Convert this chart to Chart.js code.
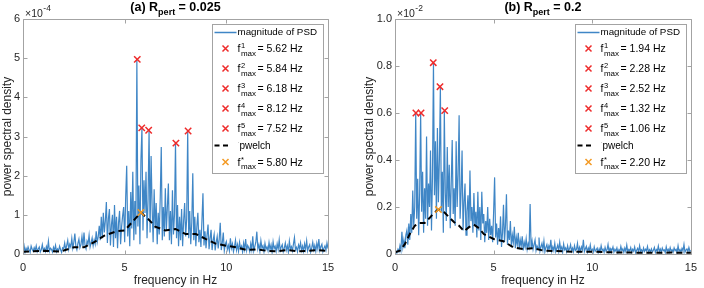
<!DOCTYPE html>
<html><head><meta charset="utf-8">
<script src="https://cdn.jsdelivr.net/npm/chart.js@4/dist/chart.umd.min.js"></script>
<style>
html,body{margin:0;padding:0;background:#fff;}
#wrap{position:relative;width:704px;height:288px;overflow:hidden;}
canvas{position:absolute;top:0;}
</style></head><body>
<div id="wrap">
<canvas id="cA" width="352" height="288" style="left:0"></canvas>
<canvas id="cB" width="352" height="288" style="left:352px"></canvas>
</div>
<script>
// ---------- DATA ----------
const freqStep = 0.05; // Hz between PSD samples (sample i is at i*freqStep)
const xTicks = [0, 5, 10, 15];

// Panel (a): values in units of 1e-4
const psdA = [
0.12,0.22,0.05,0.15,0.08,0.18,0.10,0.04,0.20,0.12,
0.07,0.16,0.09,0.21,0.06,0.13,0.18,0.05,0.11,0.24,
0.08,0.14,0.06,0.19,0.10,0.33,0.07,0.15,0.12,0.05,
0.17,0.09,0.22,0.06,0.13,0.08,0.20,0.11,0.04,0.16,
0.14,0.28,0.10,0.22,0.35,0.12,0.25,0.18,0.40,0.15,
0.30,0.52,0.20,0.11,0.27,0.38,0.16,0.24,0.45,0.19,
0.55,0.22,0.13,0.33,0.26,0.48,0.18,0.29,0.41,0.21,
0.36,0.25,0.58,0.30,0.44,0.72,0.35,0.95,0.40,1.05,
0.55,0.85,1.33,0.28,0.90,1.15,0.22,0.75,1.00,0.18,
1.25,0.40,0.95,0.15,0.80,1.10,0.25,0.70,0.98,1.20,
0.30,1.45,2.25,0.45,1.10,0.20,1.58,0.65,2.10,0.35,
1.35,0.50,4.97,0.70,1.75,0.25,2.40,3.22,0.60,1.88,
1.05,2.10,0.40,1.40,3.16,0.55,2.50,1.20,0.30,1.65,
0.65,1.30,0.25,1.05,0.50,1.45,2.73,0.35,1.20,0.45,
1.68,0.60,1.20,1.80,0.35,1.10,0.25,1.63,0.50,1.00,
2.83,0.40,1.25,0.20,0.95,0.35,1.15,0.20,0.85,1.30,
0.45,0.90,3.14,0.40,1.10,0.25,0.80,2.06,0.35,0.95,
0.20,0.70,1.05,0.30,0.62,0.18,0.85,1.55,0.22,0.58,
0.15,0.48,0.75,0.12,0.40,0.62,0.10,0.35,0.50,0.09,
0.30,0.45,0.14,0.38,0.80,0.10,0.28,0.55,0.08,0.25,
0.32,0.12,0.22,0.08,0.40,0.15,0.26,0.06,0.18,0.35,
0.10,0.24,0.07,0.30,0.14,0.20,0.05,0.28,0.12,0.38,
0.09,0.22,0.16,0.06,0.26,0.11,0.45,0.08,0.19,0.30,
0.57,0.13,0.24,0.07,0.34,0.15,0.21,0.06,0.27,0.12,
0.18,0.08,0.29,0.11,0.23,0.05,0.31,0.14,0.20,0.07,
0.26,0.12,0.36,0.09,0.18,0.24,0.06,0.15,0.28,0.10,
0.21,0.05,0.33,0.13,0.19,0.08,0.25,0.42,0.11,0.17,
0.06,0.23,0.14,0.29,0.09,0.20,0.07,0.26,0.12,0.34,
0.08,0.18,0.24,0.05,0.16,0.30,0.11,0.22,0.07,0.27,
0.13,0.38,0.09,0.19,0.25,0.06,0.15,0.21,0.10,0.28,
0.14
];
const peakFreqA = [5.62, 5.84, 6.18, 8.12, 7.52];
const peakValA  = [4.97, 3.22, 3.16, 3.14, 2.83];
const welchFreqA = [0,0.5,1,1.5,1.8,2.2,2.5,3,3.5,4,4.6,5,5.5,5.8,6.2,6.5,7,7.5,8,8.5,9,9.5,10,10.5,11,11.5,12,12.5,13,13.5,14,14.5,15];
const welchA     = [0.06,0.07,0.08,0.07,0.06,0.12,0.17,0.17,0.30,0.47,0.58,0.60,0.89,1.06,0.87,0.70,0.60,0.64,0.51,0.51,0.38,0.26,0.21,0.17,0.10,0.12,0.08,0.07,0.10,0.07,0.08,0.10,0.08];
const welchPeakFreqA = 5.80, welchPeakValA = 1.06;
const yTicksA = [0, 1, 2, 3, 4, 5, 6];

// Panel (b): values in units of 1e-2
const psdB = [
0.004,0.012,0.006,0.020,0.010,0.035,0.015,0.095,0.030,0.060,
0.025,0.080,0.100,0.040,0.130,0.060,0.170,0.090,0.270,0.120,
0.200,0.600,0.150,0.320,0.080,0.260,0.600,0.180,0.350,0.090,
0.280,0.150,0.500,0.120,0.300,0.200,0.440,0.100,0.330,0.814,
0.250,0.480,0.150,0.536,0.220,0.400,0.712,0.180,0.350,0.090,
0.610,0.260,0.140,0.455,0.200,0.380,0.110,0.300,0.485,0.170,
0.280,0.120,0.480,0.200,0.340,0.590,0.150,0.260,0.440,0.100,
0.220,0.300,0.080,0.180,0.250,0.110,0.355,0.140,0.200,0.090,
0.260,0.120,0.180,0.070,0.265,0.100,0.200,0.060,0.265,0.130,
0.170,0.050,0.140,0.090,0.200,0.060,0.150,0.080,0.120,0.050,
0.180,0.326,0.070,0.130,0.040,0.110,0.060,0.160,0.030,0.090,
0.210,0.050,0.120,0.254,0.040,0.100,0.060,0.140,0.030,0.080,
0.050,0.116,0.025,0.070,0.040,0.090,0.020,0.060,0.035,0.075,
0.015,0.050,0.030,0.065,0.020,0.045,0.030,0.213,0.025,0.055,
0.020,0.040,0.060,0.015,0.035,0.025,0.070,0.012,0.030,0.045,
0.018,0.055,0.010,0.028,0.040,0.015,0.035,0.022,0.060,0.012,
0.030,0.015,0.045,0.010,0.025,0.038,0.012,0.050,0.020,0.030,
0.008,0.042,0.018,0.026,0.010,0.035,0.015,0.022,0.040,0.012,
0.025,0.010,0.035,0.015,0.020,0.045,0.008,0.028,0.012,0.030,
0.018,0.060,0.010,0.022,0.032,0.008,0.025,0.014,0.038,0.010,
0.020,0.008,0.030,0.012,0.018,0.025,0.006,0.022,0.010,0.035,
0.015,0.020,0.007,0.028,0.012,0.018,0.040,0.009,0.024,0.011,
0.016,0.030,0.008,0.020,0.012,0.026,0.006,0.018,0.010,0.032,
0.014,0.022,0.007,0.025,0.011,0.038,0.009,0.019,0.013,0.027,
0.008,0.020,0.012,0.030,0.006,0.016,0.024,0.009,0.035,0.012,
0.018,0.007,0.026,0.011,0.020,0.014,0.032,0.008,0.018,0.010,
0.022,0.009,0.016,0.028,0.007,0.019,0.012,0.034,0.010,0.021,
0.008,0.025,0.014,0.018,0.006,0.030,0.011,0.020,0.009,0.027,
0.012,0.018,0.008,0.026,0.014,0.020,0.007,0.035,0.011,0.019,
0.009,0.024,0.013,0.040,0.008,0.017,0.022,0.010,0.028,0.012,
0.015
];
const peakFreqB = [1.94, 2.28, 2.52, 1.32, 1.06];
const peakValB  = [0.814, 0.712, 0.61, 0.60, 0.60];
const welchFreqB = [0,0.25,0.5,0.75,1,1.25,1.5,1.75,2,2.2,2.5,2.75,3,3.25,3.5,3.75,4,4.25,4.5,5,5.5,6,6.5,7,7.5,8,9,10,11,12,13,14,15];
const welchB     = [0.007,0.014,0.042,0.085,0.12,0.132,0.132,0.153,0.177,0.189,0.177,0.156,0.135,0.12,0.097,0.114,0.125,0.11,0.085,0.064,0.054,0.028,0.021,0.025,0.015,0.013,0.010,0.010,0.007,0.006,0.005,0.006,0.005];
const welchPeakFreqB = 2.20, welchPeakValB = 0.189;
const yTicksB = [0, 0.2, 0.4, 0.6, 0.8, 1];

// ---------- STYLE ----------
const FONT = "'Liberation Sans', Arial, Helvetica, sans-serif";
const BLUE = '#3f86c6', RED = '#ee2b2b', ORANGE = '#f39a24';
const AXIS = '#a3a3a3', TXT = '#262626';
Chart.defaults.font.family = FONT;

function segW(ctx, t, size, bold) {
  ctx.font = (bold ? 'bold ' : '') + size + 'px ' + FONT;
  return ctx.measureText(t).width;
}
function drawSeg(ctx, t, x, y, size, bold, color) {
  ctx.font = (bold ? 'bold ' : '') + size + 'px ' + FONT;
  ctx.fillStyle = color;
  ctx.fillText(t, x, y);
  return ctx.measureText(t).width;
}
function drawX(ctx, cx, cy, color) {
  ctx.save();
  ctx.strokeStyle = color; ctx.lineWidth = 1.5;
  ctx.beginPath();
  ctx.moveTo(cx - 3, cy - 3); ctx.lineTo(cx + 3, cy + 3);
  ctx.moveTo(cx + 3, cy - 3); ctx.lineTo(cx - 3, cy + 3);
  ctx.stroke();
  ctx.restore();
}
// f^{sup}_{max} = value Hz
function drawFmax(ctx, x, y, sup, tail) {
  ctx.textBaseline = 'alphabetic';
  let w = drawSeg(ctx, 'f', x, y + 3.5, 10.5, false, '#000');
  const xs = x + w + 0.5;
  const w1 = drawSeg(ctx, sup, xs, y - 0.5, 7.5, false, '#000');
  const w2 = drawSeg(ctx, 'max', xs, y + 7, 8, false, '#000');
  drawSeg(ctx, tail, xs + Math.max(w1, w2) + 1.5, y + 3.5, 10.5, false, '#000');
}

const decorPlugin = {
  id: 'matDecor',
  afterDatasetsDraw(chart, args, o) {
    const {ctx, chartArea: a, scales: {x, y}} = chart;
    ctx.save();
    // axes box
    const L = Math.round(a.left) + 0.5, T = Math.round(a.top) + 0.5;
    const R = Math.round(a.right) + 0.5, B = Math.round(a.bottom) + 0.5;
    ctx.strokeStyle = AXIS; ctx.lineWidth = 1;
    ctx.beginPath();
    ctx.rect(L, T, R - L, B - T);
    x.ticks.forEach(t => {
      const px = Math.round(x.getPixelForValue(t.value)) + 0.5;
      ctx.moveTo(px, B); ctx.lineTo(px, B - 4);
      ctx.moveTo(px, T); ctx.lineTo(px, T + 4);
    });
    y.ticks.forEach(t => {
      const py = Math.round(y.getPixelForValue(t.value)) + 0.5;
      ctx.moveTo(L, py); ctx.lineTo(L + 4, py);
      ctx.moveTo(R, py); ctx.lineTo(R - 4, py);
    });
    ctx.stroke();

    // title with subscript
    ctx.textBaseline = 'alphabetic';
    const p1 = o.titlePrefix, p2 = 'pert', p3 = ' = ' + o.titleValue;
    const tw = segW(ctx, p1, 12.5, true) + segW(ctx, p2, 9, true) + segW(ctx, p3, 12.5, true);
    let tx = (a.left + a.right) / 2 - tw / 2;
    tx += drawSeg(ctx, p1, tx, 11, 12.5, true, '#000');
    tx += drawSeg(ctx, p2, tx, 14.5, 9, true, '#000');
    drawSeg(ctx, p3, tx, 11, 12.5, true, '#000');

    // exponent
    let ex = a.left + 2;
    ex += drawSeg(ctx, '\u00d710', ex, 17, 10.5, false, TXT);
    drawSeg(ctx, o.exponent, ex + 0.5, 10.5, 8.5, false, TXT);

    // legend
    const bw = 111, bh = 149;
    const bx = Math.round(a.right) - 116 + 0.5, by = 24.5;
    ctx.fillStyle = '#fff';
    ctx.fillRect(bx, by, bw, bh);
    ctx.strokeStyle = AXIS; ctx.lineWidth = 1;
    ctx.strokeRect(bx, by, bw, bh);
    const sx0 = bx + 2, sx1 = bx + 24, mx = bx + 13, txx = bx + 25;
    // row 1
    ctx.strokeStyle = BLUE; ctx.lineWidth = 1.5;
    ctx.beginPath(); ctx.moveTo(sx0, 32.5); ctx.lineTo(sx1, 32.5); ctx.stroke();
    ctx.textBaseline = 'middle';
    drawSeg(ctx, 'magnitude of PSD', txx, 32.5, 9.8, false, '#000');
    // peaks
    o.peakFreq.forEach((f, k) => {
      const ry = 48.5 + 20 * k;
      drawX(ctx, mx, ry, RED);
      drawFmax(ctx, txx, ry, String(k + 1), '= ' + f.toFixed(2) + ' Hz');
    });
    // pwelch
    ctx.strokeStyle = '#000'; ctx.lineWidth = 2; ctx.setLineDash([5, 3.5]);
    ctx.beginPath(); ctx.moveTo(sx0, 145.5); ctx.lineTo(sx0 + 17, 145.5); ctx.stroke();
    ctx.setLineDash([]);
    ctx.textBaseline = 'middle';
    drawSeg(ctx, '\u02d1', txx, 143, 6, false, '#000');
    drawSeg(ctx, 'pwelch', txx + 2, 146.5, 10, false, '#000');
    // f*
    drawX(ctx, mx, 162, ORANGE);
    drawFmax(ctx, txx, 162, '*', '= ' + o.welchPeakFreq.toFixed(2) + ' Hz');
    ctx.restore();
  }
};

function makeChart(id, P) {
  const psdPts = P.psd.map((v, i) => ({x: Math.round(i * freqStep * 100) / 100, y: v}));
  const welchPts = P.welchFreq.map((f, i) => ({x: f, y: P.welch[i]}));
  const peakPts = P.peakFreq.map((f, i) => ({x: f, y: P.peakVal[i]}));
  const starPts = [{x: P.welchPeakFreq, y: P.welchPeakVal}];
  const tickFont = {size: 11, family: FONT};
  return new Chart(document.getElementById(id), {
    type: 'line',
    data: {datasets: [
      {data: starPts, showLine: false, pointStyle: 'crossRot', pointRadius: 4.5, pointBorderWidth: 1.5, borderColor: ORANGE, backgroundColor: ORANGE, order: 0},
      {data: peakPts, showLine: false, pointStyle: 'crossRot', pointRadius: 4.5, pointBorderWidth: 1.5, borderColor: RED, backgroundColor: RED, order: 1},
      {data: welchPts, borderColor: '#000', borderWidth: 2, borderDash: [6, 4], pointRadius: 0, fill: false, order: 2},
      {data: psdPts, borderColor: BLUE, borderWidth: 1.2, pointRadius: 0, fill: false, order: 3}
    ]},
    options: {
      responsive: false, animation: false, events: [],
      layout: {padding: {left: 0, right: P.padRight, top: 19, bottom: 0}},
      plugins: {legend: {display: false}, tooltip: {enabled: false}, title: {display: false}, matDecor: P.decor},
      scales: {
        x: {type: 'linear', min: 0, max: 15,
            afterBuildTicks: s => { s.ticks = xTicks.map(v => ({value: v})); },
            grid: {display: false, drawTicks: false}, border: {display: false},
            ticks: {padding: 7, color: TXT, font: tickFont, maxRotation: 0, autoSkip: false},
            title: {display: true, text: 'frequency in Hz', color: TXT, font: {size: 12, family: FONT}, padding: {top: 0, bottom: 0}},
            afterFit: s => { s.height = 34; }},
        y: {type: 'linear', min: 0, max: P.yTicks[P.yTicks.length - 1],
            afterBuildTicks: s => { s.ticks = P.yTicks.map(v => ({value: v})); },
            grid: {display: false, drawTicks: false}, border: {display: false},
            ticks: {padding: 3, color: TXT, font: tickFont, autoSkip: false},
            title: {display: true, text: 'power spectral density', color: TXT, font: {size: 12, family: FONT}, padding: {top: P.yTitlePad, bottom: 0}},
            afterFit: s => { s.width = P.yAxisWidth; }}
      }
    },
    plugins: [decorPlugin]
  });
}

makeChart('cA', {
  psd: psdA, welchFreq: welchFreqA, welch: welchA, peakFreq: peakFreqA, peakVal: peakValA,
  welchPeakFreq: welchPeakFreqA, welchPeakVal: welchPeakValA, yTicks: yTicksA,
  padRight: 24, yAxisWidth: 23, yTitlePad: 0,
  decor: {titlePrefix: '(a) R', titleValue: '0.025', exponent: '-4', peakFreq: peakFreqA, welchPeakFreq: welchPeakFreqA}
});
makeChart('cB', {
  psd: psdB, welchFreq: welchFreqB, welch: welchB, peakFreq: peakFreqB, peakVal: peakValB,
  welchPeakFreq: welchPeakFreqB, welchPeakVal: welchPeakValB, yTicks: yTicksB,
  padRight: 7, yAxisWidth: 43, yTitlePad: 10,
  decor: {titlePrefix: '(b) R', titleValue: '0.2', exponent: '-2', peakFreq: peakFreqB, welchPeakFreq: welchPeakFreqB}
});
</script>
</body></html>
